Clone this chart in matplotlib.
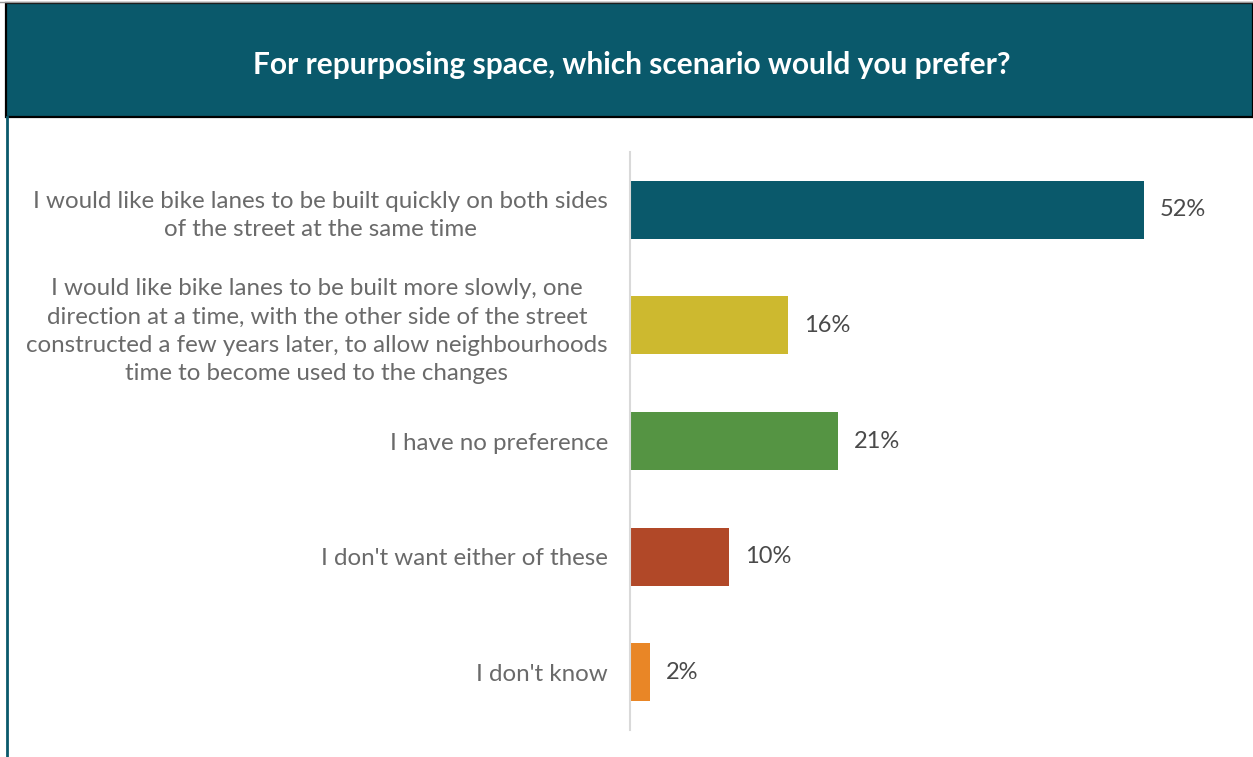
import matplotlib
matplotlib.use("Agg")
import matplotlib.pyplot as plt
from matplotlib.patches import Rectangle
from matplotlib.lines import Line2D

title = "For repurposing space, which scenario would you prefer?"
categories = [
    "I would like bike lanes to be built quickly on both sides\nof the street at the same time",
    "I would like bike lanes to be built more slowly, one\ndirection at a time, with the other side of the street\nconstructed a few years later, to allow neighbourhoods\ntime to become used to the changes",
    "I have no preference",
    "I don't want either of these",
    "I don't know",
]
values = [52, 16, 21, 10, 2]
value_labels = ["52%", "16%", "21%", "10%", "2%"]
colors = ["#0A596B", "#CDB92F", "#559443", "#B14828", "#E98626"]

W, H = 1253, 757
fig = plt.figure(figsize=(W / 100, H / 100), dpi=100)
fig.patch.set_facecolor("white")

# Banner
fig.patches.append(Rectangle((6 / W, 1 - 117 / H), (W - 6) / W, 114 / H,
                             transform=fig.transFigure, facecolor="#0A596B",
                             edgecolor="black", linewidth=1.6, zorder=1))
fig.lines.append(Line2D([0, 1], [1 - 2 / H, 1 - 2 / H], transform=fig.transFigure,
                        color="#9a9a9a", linewidth=1))
fig.lines.append(Line2D([7 / W, 7 / W], [0, 1 - 117 / H], transform=fig.transFigure,
                        color="#0A596B", linewidth=2))
fig.text(632 / W, 1 - 65 / H, title, color="white", fontsize=21.5, fontweight="bold",
         ha="center", va="center", family="Lato")

ax = fig.add_axes([630 / W, 1 - 730 / H, 610 / W, 578 / H])
y = list(range(len(categories)))
ax.barh(y, values, height=0.5, color=colors)
ax.set_ylim(len(categories) - 0.5, -0.5)
ax.set_xlim(0, 61.7)
for spine in ["top", "right", "bottom"]:
    ax.spines[spine].set_visible(False)
ax.spines["left"].set_color("#d9d9d9")
ax.spines["left"].set_linewidth(1.5)
ax.set_xticks([])
ax.set_yticks(y)
ax.set_yticklabels(categories, fontsize=17.4, color="#6a6a6a", family="Lato",
                   multialignment="center", linespacing=1.42)
ax.tick_params(axis="y", length=0, pad=16)
for yi, v, lab in zip(y, values, value_labels):
    ax.text(v + 1.6, yi, lab, va="center", ha="left", fontsize=17,
            color="#4a4a4a", family="Lato")

fig.savefig("out.png", dpi=100)
